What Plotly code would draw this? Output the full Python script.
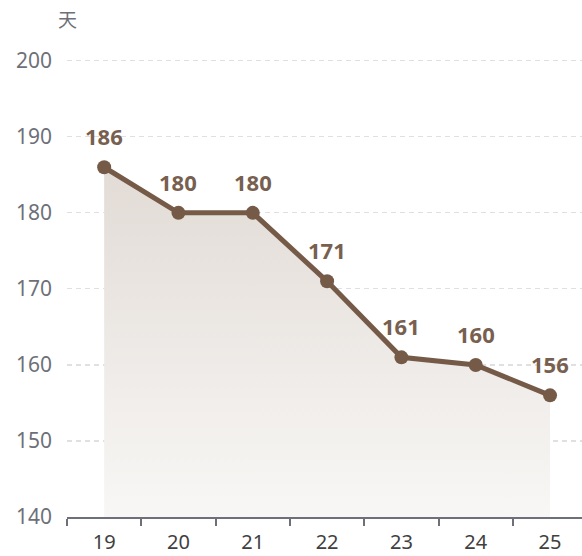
import plotly.graph_objects as go

categories = ["19", "20", "21", "22", "23", "24", "25"]
values = [186, 180, 180, 171, 161, 160, 156]
y_ticks = [140, 150, 160, 170, 180, 190, 200]
unit_label = "天"

line_color = "#765a48"
label_color = "#77604f"
axis_color = "#6e7079"
font_family = "Noto Sans, Noto Sans CJK SC, sans-serif"

fig = go.Figure()
fig.add_trace(go.Scatter(
    x=categories, y=values,
    mode="lines+markers",
    line=dict(color=line_color, width=5),
    marker=dict(color=line_color, size=14),
    fill="tozeroy",
    fillgradient=dict(
        type="vertical",
        start=140, stop=186,
        colorscale=[[0, "rgba(248,247,245,1)"], [1, "rgba(226,219,214,1)"]],
    ),
    hoverinfo="skip",
    showlegend=False,
))

for i, v in enumerate(values):
    fig.add_annotation(
        x=i, y=v, xref="x", yref="y", text=f"<b>{v}</b>", showarrow=False,
        yshift=31, yanchor="middle",
        font=dict(family=font_family, size=22, color=label_color),
    )

fig.add_annotation(
    x=0, xref="paper", y=1, yref="paper", text=unit_label, showarrow=False,
    xanchor="center", yanchor="middle", yshift=37,
    font=dict(family=font_family, size=19, color=axis_color),
)

fig.update_layout(
    width=582, height=556, autosize=False,
    margin=dict(l=67, r=0, t=57, b=39),
    plot_bgcolor="white", paper_bgcolor="white",
    font=dict(family=font_family, color=axis_color),
    xaxis=dict(
        type="category",
        range=[-0.5, 6.43],
        tickson="boundaries",
        ticks="outside", ticklen=7, tickwidth=2, tickcolor=axis_color,
        showline=True, linecolor=axis_color, linewidth=2,
        showgrid=False,
        tickfont=dict(size=20, color="#404040"),
        ticklabelstandoff=6,
        fixedrange=True,
    ),
    yaxis=dict(
        range=[140, 200.5],
        tickvals=y_ticks,
        showgrid=True, gridcolor="#e0e0e0", griddash="5px,4px", gridwidth=1.2,
        zeroline=False, showline=False,
        tickfont=dict(size=21, color=axis_color),
        ticklabelstandoff=14,
        fixedrange=True,
    ),
)

fig.write_html(
    "out.html",
    config={"displayModeBar": False, "staticPlot": True},
    post_script="document.body.style.margin='0';document.body.style.overflow='hidden';",
)
